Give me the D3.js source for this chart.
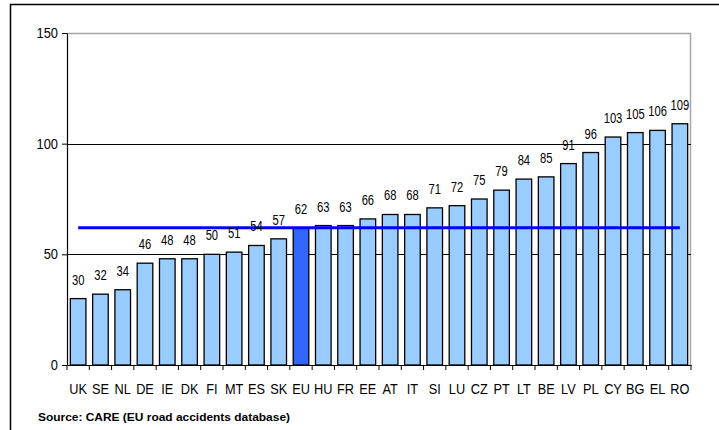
<!DOCTYPE html>
<html><head><meta charset="utf-8">
<script src="https://cdn.jsdelivr.net/npm/d3@7"></script>
<style>body{margin:0;background:#fff}svg{display:block}</style>
</head><body>
<svg id="c" width="719" height="430"></svg>
<script>
const categories = ["UK","SE","NL","DE","IE","DK","FI","MT","ES","SK","EU","HU","FR","EE","AT","IT","SI","LU","CZ","PT","LT","BE","LV","PL","CY","BG","EL","RO"];
const values = [30,32,34,46,48,48,50,51,54,57,62,63,63,66,68,68,71,72,75,79,84,85,91,96,103,105,106,109];
const highlight = "EU";
const averageValue = 62;
const yTicks = [0,50,100,150];
const sourceText = "Source: CARE (EU road accidents database)";

const svg = d3.select("#c");
const font = "'Liberation Sans', Arial, sans-serif";
const L = 67, R = 691, T = 33, B = 365;

// outer frame
svg.append("path").attr("d","M10.5,430 V4.5 H719").attr("fill","none").attr("stroke","#000").attr("stroke-width",1.5);

const x = d3.scaleBand().domain(categories).range([L,R]).paddingInner(0.3).paddingOuter(0.15);
const y = d3.scaleLinear().domain([0,150]).range([B,T]);

// plot area border (gray)
svg.append("path").attr("d",`M${L},${T+0.5} H${R-0.5} V${B}`).attr("fill","none").attr("stroke","#a6a6a6").attr("stroke-width",1.5);

// gridlines
svg.append("g").selectAll("line").data(yTicks.filter(t=>t>0 && t<150)).join("line")
  .attr("x1",L).attr("x2",R).attr("y1",d=>Math.round(y(d))+0.5).attr("y2",d=>Math.round(y(d))+0.5)
  .attr("stroke","#000").attr("stroke-width",1);

// bars
svg.append("g").selectAll("rect").data(values).join("rect")
  .attr("x",(d,i)=>x(categories[i]))
  .attr("y",d=>y(d))
  .attr("width",x.bandwidth())
  .attr("height",d=>B-y(d))
  .attr("fill",(d,i)=>categories[i]===highlight?"#3366ff":"#99ccff")
  .attr("stroke","#000").attr("stroke-width",1.3);

// average line
svg.append("line")
  .attr("x1",x(categories[0])+x.bandwidth()/2)
  .attr("x2",x(categories[categories.length-1])+x.bandwidth()/2)
  .attr("y1",y(averageValue)).attr("y2",y(averageValue))
  .attr("stroke","#0000ff").attr("stroke-width",3);

// value labels (horizontally condensed)
svg.append("g").selectAll("text").data(values).join("text")
  .attr("transform",(d,i)=>`translate(${x(categories[i])+x.bandwidth()/2},${y(d)-14}) scale(0.8,1)`)
  .attr("text-anchor","middle")
  .attr("font-family",font).attr("font-size",14)
  .text(d=>d);

// y axis
const ya = svg.append("g").attr("transform",`translate(${L},0)`)
  .call(d3.axisLeft(y).tickValues(yTicks).tickSize(5).tickSizeOuter(0));
ya.select(".domain").attr("stroke","#000").attr("stroke-width",1.2);
ya.selectAll(".tick line").attr("stroke","#000");
ya.selectAll(".tick text").attr("font-family",font).attr("font-size",14).attr("fill","#000")
  .attr("x",null).attr("transform","translate(-9,0) scale(0.92,1)");

// x axis
const xa = svg.append("g").attr("transform",`translate(0,${B})`)
  .call(d3.axisBottom(x).tickSize(0).tickSizeOuter(0));
xa.select(".domain").attr("stroke","#000").attr("stroke-width",1.2);
xa.selectAll(".tick text").attr("font-family",font).attr("font-size",15).attr("fill","#000")
  .attr("y",null).attr("dy","0.71em").attr("transform","translate(0,18) scale(0.85,1)");
// category boundary ticks
const bounds = d3.range(categories.length+1).map(i=>L+(R-L)*i/categories.length);
svg.append("g").selectAll("line").data(bounds).join("line")
  .attr("x1",d=>d).attr("x2",d=>d).attr("y1",B).attr("y2",B+5).attr("stroke","#000");

// source
svg.append("text").attr("x",38).attr("y",421)
  .attr("font-family",font).attr("font-size",11).attr("font-weight","bold")
  .attr("textLength",252).attr("lengthAdjust","spacingAndGlyphs")
  .text(sourceText);
</script>
</body></html>
